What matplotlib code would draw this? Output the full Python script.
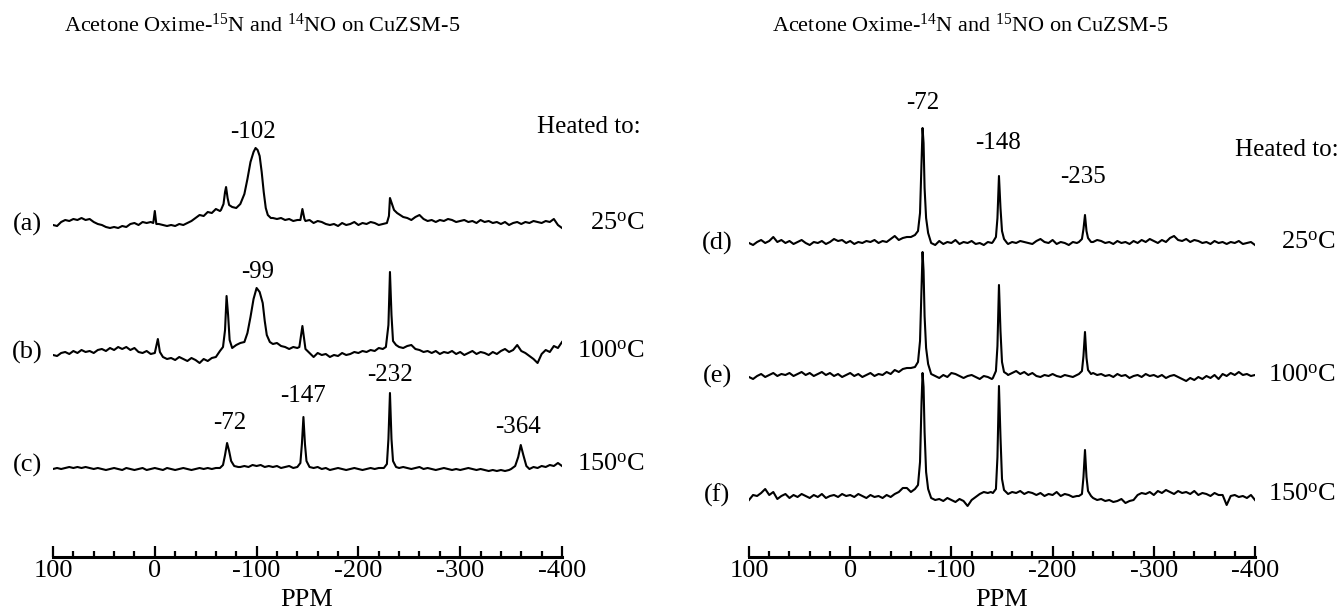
import numpy as np
import matplotlib
matplotlib.use('Agg')
import matplotlib.pyplot as plt

plt.rcParams['font.family'] = ['Liberation Serif', 'DejaVu Serif']
plt.rcParams['mathtext.fontset'] = 'custom'
plt.rcParams['mathtext.rm'] = 'Liberation Serif'
plt.rcParams['mathtext.it'] = 'Liberation Serif:italic'

# ppm positions where the baselines were read (every 4 ppm, 100 -> -400)
ppm_grid = np.arange(100, -401, -4)

# baseline readings (pixels above each trace's baseline), 126 values each
base_a = [-1, -2, 2, 4, 3, 5, 4, 6, 4, 5,
          2, 0, -1, -3, -4, -3, -4, -2, -3, 0,
          1, -1, 2, 1, 2, 1, 0, -1, -2, -1,
          -2, 0, -1, 1, 3, 6, 9, 8, 12, 11,
          15, 13, 17, 17, 17, 20, 30, 45, 62, 72,
          76, 68, 32, 9, 6, 5, 6, 4, 5, 3,
          4, 15, 3, 4, 1, 3, 2, 0, -1, 0,
          -2, 1, -1, 0, 2, -1, 1, 0, 2, 1,
          -1, 0, 1, 20, 12, 10, 7, 6, 4, 7,
          9, 5, 3, 4, 2, 4, 3, 5, 4, 2,
          3, 4, 2, 3, 1, 4, 2, 3, 1, 2,
          0, 2, -1, 1, 2, 0, 2, 1, 3, 2,
          1, 3, 2, 5, -1, -4]
base_b = [0, -1, 2, 3, 1, 4, 2, 5, 3, 4,
          2, 5, 6, 4, 7, 5, 8, 6, 8, 5,
          7, 3, 2, 4, 1, 2, 2, -2, -4, -3,
          -5, -2, -4, -6, -3, -5, -8, -4, -6, -3,
          -2, 4, 8, 59, 7, 10, 12, 13, 22, 38,
          67, 63, 34, 13, 11, 12, 9, 8, 6, 8,
          7, 29, 6, 2, -2, 2, 0, 1, -2, 0,
          -1, 2, 0, 1, 3, 2, 4, 3, 5, 4,
          7, 6, 8, 83, 12, 8, 7, 9, 10, 6,
          5, 3, 4, 2, 4, 1, 3, 2, 4, 1,
          3, 0, 2, 4, 1, 3, 2, 0, 3, 1,
          4, 6, 3, 5, 10, 4, 2, -1, -4, -8,
          1, 5, 3, 9, 7, 13]
base_c = [0, 1, 0, 1, 2, 1, 2, 1, 2, 1,
          0, 1, 0, -1, 0, 1, 0, -1, 1, 0,
          -1, 0, 1, -1, 0, 1, 0, -1, 1, 0,
          -1, 0, 1, 0, -1, 0, 1, 0, 1, 0,
          1, 1, 14, 26, 3, 2, 2, 3, 2, 4,
          3, 4, 2, 3, 2, 3, 1, 2, 3, 1,
          2, 25, 8, 1, 1, 2, 0, 1, -1, 0,
          1, 0, -1, 0, 1, 0, -1, 0, 1, 0,
          1, 1, 5, 76, 2, 1, 2, 1, 0, 1,
          2, 0, 1, 0, -1, 0, 1, 0, -1, 0,
          -1, 0, 1, 0, -1, 0, -1, -2, -1, -2,
          -1, -2, -1, 0, 3, 24, 3, 0, 2, 1,
          3, 2, 4, 3, 6, 3]
base_d = [0, -2, 1, 3, 0, 2, 6, 1, 3, 0,
          2, -1, 1, 3, 0, -2, 1, 0, 2, -1,
          1, 4, 2, 3, 0, 2, -1, 1, 0, 2,
          1, 3, 0, 2, 1, 4, 7, 3, 5, 6,
          6, 8, 30, 115, 25, 0, -2, 2, -1, 1,
          0, 3, -1, 1, 0, 2, -1, 0, -2, 1,
          0, 6, 35, 4, -1, 1, 0, 2, 1, 0,
          -1, 2, 4, 1, 0, 3, -1, 1, 0, -2,
          1, 0, 4, 28, 5, 1, 3, 2, 0, 1,
          -1, 2, 0, 1, -1, 2, 0, 3, 1, 4,
          2, 0, 3, 1, 5, 7, 3, 2, 4, 1,
          3, 2, 0, 1, -1, 2, 0, 1, -1, 1,
          0, 2, -1, 0, 1, -2]
base_e = [-1, -3, 0, 2, -1, 1, 3, 0, 2, 1,
          3, 0, 2, 4, 1, 3, 0, 2, 4, 1,
          3, 0, 2, -1, 1, 3, 0, 2, -1, 1,
          3, 0, 2, 1, 4, 2, 6, 4, 7, 8,
          8, 9, 35, 124, 28, 2, 0, -2, 1, -1,
          3, 2, 0, -2, 0, 1, -1, -3, 0, -1,
          -3, 5, 45, 4, 1, 3, 5, 2, 4, 1,
          3, 0, -1, 1, 0, 2, 0, -1, 1, 0,
          -1, 1, 5, 44, 6, 3, 1, 2, 0, 1,
          -1, 2, 0, 1, -2, 0, 1, -1, 2, 0,
          1, -1, 1, -2, 0, 1, -1, -3, -5, -2,
          -4, -1, -3, 0, -2, 1, -3, 2, 0, 3,
          1, 4, 1, 2, 0, 1]
base_f = [-3, 2, 1, 4, 8, 2, 5, -2, 1, 3,
          -1, 2, 0, 3, 1, -1, 2, 0, 3, -1,
          1, 2, 0, 3, 1, 2, 0, 3, 1, -1,
          2, 0, 1, -1, 2, 0, 3, 5, 9, 9,
          5, 8, 35, 124, 25, -1, -3, -2, -4, -1,
          -3, -5, -2, -4, -9, -3, 0, 3, 5, 4,
          4, 8, 60, 7, 3, 5, 4, 6, 3, 5,
          4, 2, 4, 1, 3, 2, 5, 1, 3, 2,
          0, 1, 3, 47, 6, -1, -3, -2, -4, -3,
          -5, -4, -2, -6, -4, -3, 2, 4, 3, 5,
          2, 6, 4, 7, 5, 3, 6, 4, 5, 3,
          6, 2, 4, 3, 1, 4, 2, 2, -8, 1,
          2, 0, 1, -1, 2, -3]

# peak readings (ppm, pixels above baseline)
peaks_a = [[(1.5, 1), (0, 13), (-1.5, 0)],
           [(-65, 14), (-67.5, 20), (-69, 32), (-70, 37), (-71.5, 26), (-73, 19),
            (-76, 17), (-80, 16), (-84, 20), (-88, 30), (-91, 45), (-94, 62),
            (-97, 72), (-99, 76), (-101, 74), (-103, 68), (-105, 52), (-107, 32),
            (-109, 16), (-111, 9), (-114, 6)],
           [(-143, 4), (-145, 15), (-147, 5)],
           [(-228, 1), (-230, 8), (-231, 26), (-233, 20), (-235, 14), (-238, 11), (-241, 9)]]
peaks_b = [[(0, 2), (-3, 16), (-5, 3)],
           [(-64, 4), (-67, 8), (-69, 25), (-70.5, 59), (-72, 40), (-73.5, 15),
            (-76, 7), (-80, 10), (-84, 12), (-88, 13), (-91, 22), (-94, 38),
            (-97, 56), (-100, 67), (-103, 63), (-106, 52), (-108, 34), (-110, 20),
            (-113, 13)],
           [(-142, 8), (-145, 29), (-148, 6)],
           [(-227, 8), (-229.5, 30), (-231, 83), (-232.5, 40), (-234, 14), (-237, 10)]]
peaks_c = [[(-64, 1), (-67, 4), (-69, 14), (-71, 26), (-73, 18), (-75, 8), (-78, 3), (-82, 2)],
           [(-140, 2), (-143, 6), (-144.5, 25), (-146, 52), (-147.5, 25), (-149, 8), (-152, 2)],
           [(-225, 1), (-228, 5), (-229.5, 30), (-231, 76), (-232.5, 30), (-234, 8), (-237, 2)],
           [(-350, 0), (-354, 3), (-357, 12), (-359.5, 24), (-362, 14), (-365, 3), (-368, 0)]]
peaks_d = [[(-60, 6), (-64, 8), (-67, 12), (-69, 30), (-70.5, 80), (-71.5, 115),
            (-72.5, 100), (-73.5, 55), (-75, 25), (-77, 10), (-80, 0)],
           [(-141, 1), (-144, 6), (-145.5, 25), (-147, 67), (-148.5, 35), (-150, 12),
            (-152, 4), (-155, 0)],
           [(-226, 1), (-229, 4), (-230.5, 14), (-232, 28), (-233.5, 12), (-235, 5), (-238, 1)]]
peaks_e = [[(-60, 8), (-64, 9), (-67, 14), (-69, 35), (-70.5, 90), (-71.5, 124),
            (-72.5, 105), (-73.5, 60), (-75, 28), (-77, 12), (-80, 2)],
           [(-141, -2), (-144, 5), (-145.5, 30), (-147, 91), (-148.5, 45), (-150, 14),
            (-152, 4), (-155, 2)],
           [(-226, 2), (-229, 5), (-230.5, 20), (-232, 44), (-233.5, 18), (-235, 6), (-238, 2)]]
peaks_f = [[(-56, 9), (-60, 5), (-64, 8), (-67, 12), (-69, 35), (-70.5, 95), (-71.5, 124),
            (-72.5, 110), (-73.5, 65), (-75, 25), (-77, 8), (-80, -1)],
           [(-139, 5), (-141, 4), (-144, 8), (-145.5, 40), (-147, 111), (-148.5, 60),
            (-150, 18), (-152, 7), (-155, 4)],
           [(-226, 1), (-229, 3), (-230.5, 20), (-232, 47), (-233.5, 20), (-235, 6), (-238, 1)]]

labels_left = ['(a)', '(b)', '(c)']
labels_right = ['(d)', '(e)', '(f)']
temps = ['25$^{\\rm o}$C', '100$^{\\rm o}$C', '150$^{\\rm o}$C']
tick_vals = [100, 0, -100, -200, -300, -400]


def build(base, peaks):
    # combine baseline readings with peak readings, dropping grid points inside a peak
    keep = np.ones(len(ppm_grid), bool)
    for pk in peaks:
        hi, lo = pk[0][0], pk[-1][0]
        keep &= ~((ppm_grid <= hi) & (ppm_grid >= lo))
    xs = list(ppm_grid[keep]) + [p[0] for pk in peaks for p in pk]
    ys = list(np.array(base)[keep]) + [p[1] for pk in peaks for p in pk]
    order = np.argsort(xs)[::-1]
    return np.array(xs)[order], np.array(ys)[order]


W, H = 1340, 612
fig = plt.figure(figsize=(W / 100, H / 100), dpi=100)


def ftext(x, y, s, size=18, ha='center'):
    fig.text(x / W, 1 - y / H, s, ha=ha, va='center', fontsize=size)


def make_axes(x0, x1):
    ax = fig.add_axes([x0 / W, 1 - 557 / H, (x1 - x0) / W, 557 / H])
    ax.set_xlim(100, -400)
    ax.set_ylim(0, 557)
    for s in ['top', 'left', 'right']:
        ax.spines[s].set_visible(False)
    ax.spines['bottom'].set_linewidth(2.2)
    ax.set_yticks([])
    ax.set_xticks(tick_vals)
    ax.set_xticks(np.arange(100, -401, -20), minor=True)
    ax.set_xticklabels([str(t) for t in tick_vals])
    ax.tick_params(axis='x', which='major', direction='in', length=8, width=1.6,
                   labelsize=19, pad=2)
    ax.tick_params(axis='x', which='minor', direction='in', length=4, width=1.6)
    ax.patch.set_alpha(0)
    return ax


axL = make_axes(53, 562)
axR = make_axes(749, 1255)

for base, peaks, off in [(base_a, peaks_a, 333), (base_b, peaks_b, 202), (base_c, peaks_c, 88)]:
    x, y = build(base, peaks)
    axL.plot(x, y + off, color='black', lw=1.5)
for base, peaks, off in [(base_d, peaks_d, 314), (base_e, peaks_e, 181), (base_f, peaks_f, 60)]:
    x, y = build(base, peaks)
    axR.plot(x, y + off, color='black', lw=1.5)

# titles
ftext(262, 25, 'Acetone Oxime-$^{\\rm 15}$N and $^{\\rm 14}$NO on CuZSM-5', 16)
ftext(970, 25, 'Acetone Oxime-$^{\\rm 14}$N and $^{\\rm 15}$NO on CuZSM-5', 16)

# left panel text
ftext(589, 127, 'Heated to:', 18)
for lab, t, yy in zip(labels_left, temps, [224, 352, 465]):
    ftext(27, yy, lab, 19)
    ftext(645, yy, t, 19, ha='right')
for s, xx, yy in [('-102', 253, 132), ('-99', 258, 272), ('-72', 230, 423),
                  ('-147', 303, 396), ('-232', 390, 375), ('-364', 518, 427)]:
    ftext(xx, yy, s, 18)

# right panel text
ftext(1287, 150, 'Heated to:', 18)
for lab, t, yy in zip(labels_right, temps, [243, 376, 495]):
    ftext(717, yy, lab, 19)
    ftext(1336, yy, t, 19, ha='right')
for s, xx, yy in [('-72', 923, 103), ('-148', 998, 143), ('-235', 1083, 177)]:
    ftext(xx, yy, s, 18)

ftext(307, 600, 'PPM', 19)
ftext(1002, 600, 'PPM', 19)

fig.savefig('out.png', dpi=100)
